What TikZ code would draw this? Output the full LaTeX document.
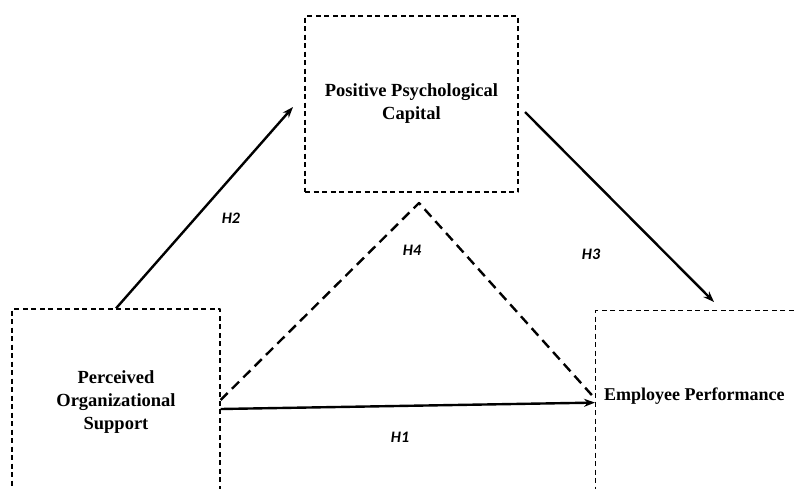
\documentclass[tikz,border=0pt]{standalone}
\usepackage{fontspec}
\setmainfont{Liberation Serif}
\newfontfamily\hypfont{Carlito}
\usetikzlibrary{arrows.meta}
\tikzset{
  box/.style={draw, dash pattern=on 5pt off 3.5pt, line width=1.2pt, inner sep=0pt},
  boxtext/.style={font=\fontsize{18.5}{23}\selectfont\bfseries, align=center},
  hyp/.style={font=\hypfont\fontsize{16}{18}\selectfont\bfseries\itshape},
  link/.style={line width=2.4pt},
  medlink/.style={line width=2.4pt, dash pattern=on 10pt off 6pt}
}
\begin{document}
\begin{tikzpicture}[x=1pt, y=-1pt, >={Stealth[length=11pt,width=8pt]}, line join=round]
\useasboundingbox (0,0) rectangle (794,488);
\clip (0,0) rectangle (794,488);
%boxes
\node[box, boxtext, minimum width=213pt, minimum height=176pt] (ppc) at (411.5,104) {Positive Psychological\\Capital};
\node[box, boxtext, minimum width=208pt, minimum height=186pt] (pos) at (116,402) {Perceived\\Organizational\\Support};
\node[box, minimum width=210pt, minimum height=186pt, anchor=north west] (ep) at (595,310) {};
\node[boxtext, font=\fontsize{18}{23}\selectfont\bfseries, anchor=west, inner sep=0pt] (eptext) at (604,396) {Employee Performance};
%free ends
\coordinate (h2tip) at (293,107);
\coordinate (h3start) at (525,112);
\coordinate (h3tip) at (714,302);
\coordinate (apex) at (419,203);
%paths
\draw[link,->] (pos.north) -- (h2tip);
\draw[link,->] (h3start) -- (h3tip);
\draw[link,->] ([yshift=-7pt]pos.east) -- ([yshift=1pt]ep.west);
\draw[medlink] ([yshift=2pt]pos.east) -- (apex) -- ([yshift=5pt]ep.west);
%labels
\node[hyp] (h1) at (400,437) {H1};
\node[hyp] (h2) at (231,218) {H2};
\node[hyp] (h3) at (591,254) {H3};
\node[hyp] (h4) at (412,250) {H4};
\end{tikzpicture}
\end{document}
